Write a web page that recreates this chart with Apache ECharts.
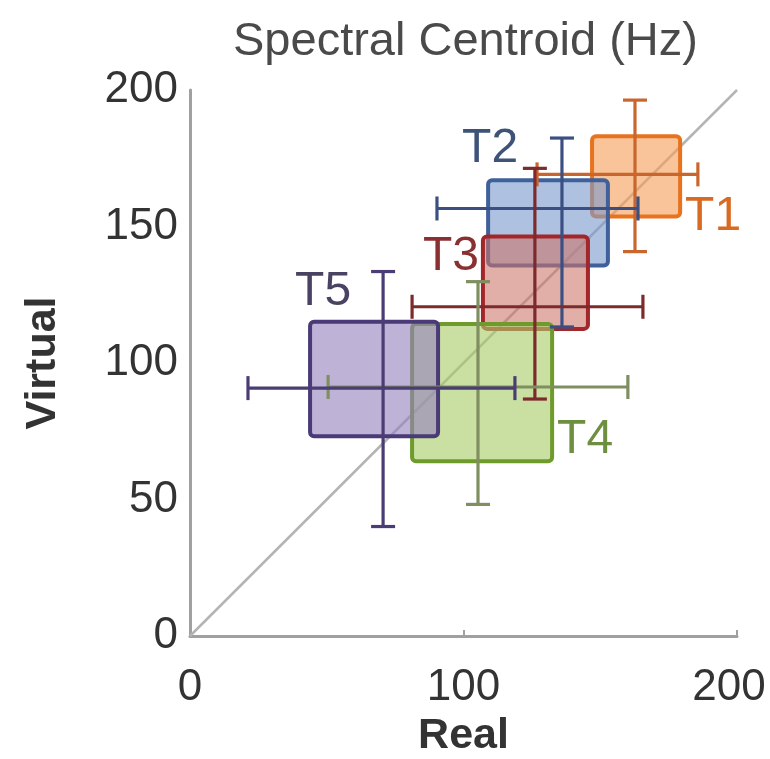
<!DOCTYPE html>
<html>
<head>
<meta charset="utf-8">
<script src="https://cdn.jsdelivr.net/npm/echarts@6/dist/echarts.min.js"></script>
<style>
  html, body { margin: 0; padding: 0; background: #fff; }
  #chart { width: 770px; height: 759px; }
</style>
</head>
<body>
<div id="chart"></div>
<script>
// trials
const trials = ['T1', 'T2', 'T3', 'T4', 'T5']

// box extents (Real on x, Virtual on y)
const boxX0 = [147.0, 109.0, 107.1, 81.2, 43.9]
const boxX1 = [179.2, 152.8, 145.5, 132.4, 90.7]
const boxY0 = [153.7, 135.7, 112.5, 64.0, 73.2]
const boxY1 = [183.1, 166.9, 146.3, 114.3, 115.1]

// error bar centres and ends
const meanX = [162.7, 136.0, 126.1, 105.3, 70.6]
const meanY = [169.1, 156.6, 120.6, 91.2, 90.8]
const xLow = [126.9, 90.3, 81.2, 50.5, 21.2]
const xHigh = [185.7, 163.8, 165.6, 160.1, 118.8]
const yLow = [140.8, 113.2, 86.8, 48.2, 40.1]
const yHigh = [196.3, 182.4, 171.3, 129.8, 133.5]

const xTicks = [0, 100, 200]
const yTicks = [0, 50, 100, 150, 200]

// colours per trial
const edgeColors = ['#e7731f', '#3f609a', '#a3262a', '#6f9a2c', '#4a3b78']
const fillColors = ['rgba(246,160,90,0.62)', 'rgba(125,155,205,0.62)', 'rgba(205,115,105,0.58)', 'rgba(170,205,105,0.62)', 'rgba(150,130,190,0.62)']
const barColors = ['#c9662e', '#3b4f82', '#7d2a2c', '#7f8f60', '#4b3d74']
const textColors = ['#d86a22', '#3d5478', '#8a3030', '#6f8f40', '#4a4262']
// label placement relative to box: [anchor corner, dx, dy, align, verticalAlign]
const labelPlace = [
  ['br', 5, 0, 'left', 'middle'],
  ['tl', 2, -8, 'center', 'bottom'],
  ['tl', -4, 20, 'right', 'middle'],
  ['br', 5, -22, 'left', 'middle'],
  ['tl', 13, -6, 'center', 'bottom']
]

const font = 'Liberation Sans, Arial, sans-serif'

const rows = trials.map((t, i) => [boxX0[i], boxY0[i], boxX1[i], boxY1[i], meanX[i], meanY[i], xLow[i], xHigh[i], yLow[i], yHigh[i], i])

const chart = echarts.init(document.getElementById('chart'), null, { renderer: 'canvas' })

chart.setOption({
  animation: false,
  title: {
    text: 'Spectral Centroid (Hz)',
    left: 228,
    top: 14,
    textStyle: { fontFamily: font, fontSize: 47, fontWeight: 'normal', color: '#4a4a4a' }
  },
  grid: { left: 190, right: 33, top: 90, bottom: 123, outerBoundsMode: 'none', containLabel: false },
  xAxis: {
    type: 'value', min: 0, max: 200, interval: 100,
    name: 'Real', nameLocation: 'middle', nameGap: 78,
    nameTextStyle: { fontFamily: font, fontSize: 43, fontWeight: 'bold', color: '#333' },
    axisLine: { lineStyle: { color: '#a0a0a0', width: 3 } },
    axisTick: { inside: true, length: 6, lineStyle: { color: '#a0a0a0', width: 2 } },
    axisLabel: {
      fontFamily: font, fontSize: 44, color: '#333', margin: 30,
      // last label sits a bit left of its tick, as in the source figure
      formatter: v => !xTicks.includes(v) ? '' : (v === 200 ? '{end|200}' : String(v)),
      rich: { end: { fontFamily: font, fontSize: 44, color: '#333', padding: [0, 16, 0, 0] } }
    },
    splitLine: { show: false }
  },
  yAxis: {
    type: 'value', min: 0, max: 200, interval: 50,
    name: 'Virtual', nameLocation: 'middle', nameGap: 125,
    nameTextStyle: { fontFamily: font, fontSize: 43, fontWeight: 'bold', color: '#333' },
    axisLine: { show: true, lineStyle: { color: '#a0a0a0', width: 3 } },
    axisTick: { show: false },
    axisLabel: { fontFamily: font, fontSize: 44, color: '#333', margin: 12,
      formatter: v => yTicks.includes(v) ? String(v) : '' },
    splitLine: { show: false }
  },
  series: [
    {
      type: 'line',
      data: [[0, 0], [200, 200]],
      symbol: 'none',
      lineStyle: { color: '#b4b4b4', width: 2.5 },
      z: 1
    },
    {
      type: 'custom',
      data: rows,
      z: 2,
      renderItem: function (params, api) {
        const i = api.value(10)
        const p0 = api.coord([api.value(0), api.value(3)])
        const p1 = api.coord([api.value(2), api.value(1)])
        const lp = labelPlace[i]
        const ax = lp[0] === 'br' ? p1[0] : p0[0]
        const ay = lp[0] === 'br' ? p1[1] : p0[1]
        return {
          type: 'group',
          children: [
            {
              type: 'rect',
              shape: { x: p0[0], y: p0[1], width: p1[0] - p0[0], height: p1[1] - p0[1], r: 4 },
              style: { fill: fillColors[i], stroke: edgeColors[i], lineWidth: 4 }
            },
            {
              type: 'text',
              x: ax + lp[1],
              y: ay + lp[2],
              style: {
                text: trials[i],
                fill: textColors[i],
                font: '48px ' + font,
                align: lp[3],
                verticalAlign: lp[4]
              }
            }
          ]
        }
      }
    },
    {
      type: 'custom',
      data: rows,
      z: 3,
      renderItem: function (params, api) {
        const i = api.value(10)
        const c = barColors[i]
        const cap = 12
        const hL = api.coord([api.value(6), api.value(5)])
        const hR = api.coord([api.value(7), api.value(5)])
        const vB = api.coord([api.value(4), api.value(8)])
        const vT = api.coord([api.value(4), api.value(9)])
        const st = { stroke: c, lineWidth: 3.2 }
        const ln = (x1, y1, x2, y2) => ({ type: 'line', shape: { x1, y1, x2, y2 }, style: st })
        return {
          type: 'group',
          children: [
            ln(hL[0], hL[1], hR[0], hR[1]),
            ln(hL[0], hL[1] - cap, hL[0], hL[1] + cap),
            ln(hR[0], hR[1] - cap, hR[0], hR[1] + cap),
            ln(vB[0], vB[1], vT[0], vT[1]),
            ln(vB[0] - cap, vB[1], vB[0] + cap, vB[1]),
            ln(vT[0] - cap, vT[1], vT[0] + cap, vT[1])
          ]
        }
      }
    }
  ]
})
</script>
</body>
</html>
